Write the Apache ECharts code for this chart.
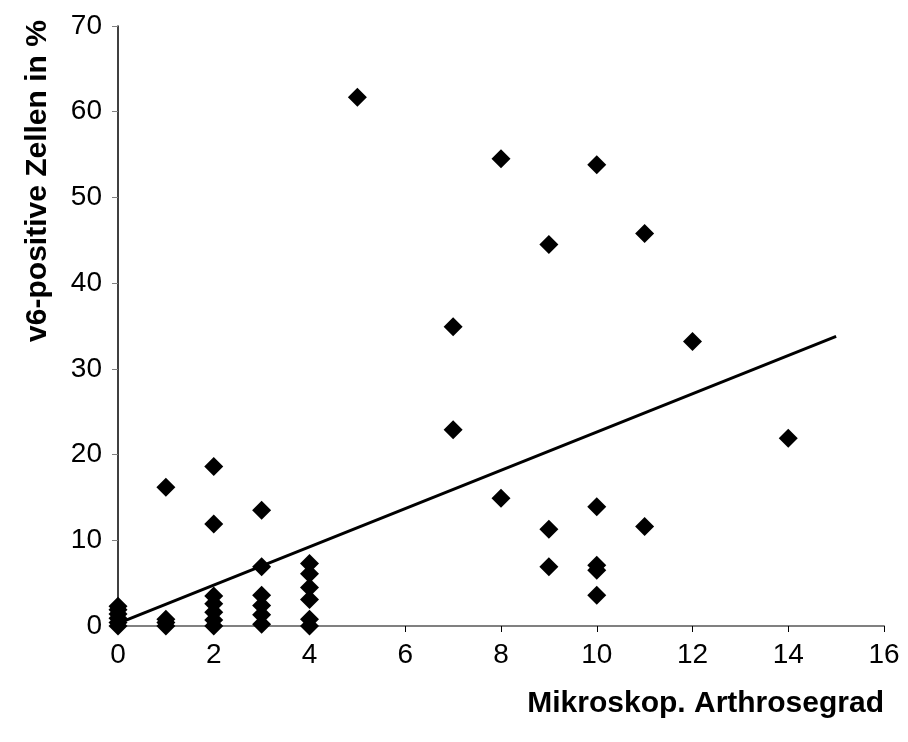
<!DOCTYPE html>
<html>
<head>
<meta charset="utf-8">
<script src="https://cdn.jsdelivr.net/npm/echarts@6/dist/echarts.min.js"></script>
<style>
html,body{margin:0;padding:0;background:#fff;}
#chart{width:908px;height:742px;}
</style>
</head>
<body>
<div id="chart"></div>
<script>
// Mikroskop. Arthrosegrad (x) and v6-positive Zellen in % (y)
const gradeX = [0,0,0,0,0,0, 1,1,1,1, 2,2,2,2,2,2,2, 3,3,3,3,3,3, 4,4,4,4,4,4, 5, 7,7, 8,8, 9,9,9, 10,10,10,10,10, 11,11, 12, 14];
const percentY = [0,0.4,0.9,1.4,1.9,2.3, 0,0.4,0.8,16.2, 0,0.7,1.6,2.6,3.5,11.9,18.6, 0.2,1.3,2.4,3.6,6.9,13.5, 0,0.8,3.1,4.5,6.1,7.3, 61.7, 22.9,34.9, 14.9,54.5, 6.9,11.3,44.5, 3.6,6.5,7.1,13.9,53.8, 11.6,45.8, 33.2, 21.9];
// Linear trend line endpoints
const trendX = [0, 15];
const trendY = [0.3, 33.8];
const xTicks = [0,2,4,6,8,10,12,14,16];
const yTicks = [0,10,20,30,40,50,60,70];
const xTitle = 'Mikroskop. Arthrosegrad';
const yTitle = 'v6-positive Zellen in %';

const scatterData = gradeX.map((x, i) => [x, percentY[i]]);
const trendData = trendX.map((x, i) => [x, trendY[i]]);
const font = '"Liberation Sans", Arial, sans-serif';

const chart = echarts.init(document.getElementById('chart'), null, {renderer: 'canvas'});
chart.setOption({
  backgroundColor: '#ffffff',
  animation: false,
  grid: {left: 118, right: 24, top: 26, bottom: 116, containLabel: false},
  xAxis: {
    type: 'value', min: xTicks[0], max: xTicks[xTicks.length-1], interval: 2,
    axisLine: {show: true, onZero: false, lineStyle: {color: '#808080', width: 2}},
    axisTick: {show: true, length: 6, lineStyle: {color: '#000', width: 1}},
    axisLabel: {color: '#000', fontSize: 28, fontFamily: font, margin: 15},
    splitLine: {show: false}
  },
  yAxis: {
    type: 'value', min: yTicks[0], max: yTicks[yTicks.length-1], interval: 10,
    axisLine: {show: true, onZero: false, lineStyle: {color: '#000', width: 1.5}},
    axisTick: {show: true, length: 6, lineStyle: {color: '#808080', width: 1}},
    axisLabel: {color: '#000', fontSize: 28, fontFamily: font, margin: 16},
    splitLine: {show: false}
  },
  graphic: [
    {type: 'text', right: 24, top: 689,
     style: {text: xTitle, fill: '#000', font: 'bold 30px ' + font}},
    {type: 'text', x: 38, y: 181, rotation: Math.PI/2,
     style: {text: yTitle, fill: '#000', font: 'bold 30px ' + font, textAlign: 'center', textVerticalAlign: 'middle'}}
  ],
  series: [
    {type: 'scatter', data: scatterData, symbol: 'diamond', symbolSize: 19,
     itemStyle: {color: '#000', opacity: 1}, z: 3},
    {type: 'line', data: trendData, symbol: 'none', lineStyle: {color: '#000', width: 3}, z: 2}
  ]
});
</script>
</body>
</html>
